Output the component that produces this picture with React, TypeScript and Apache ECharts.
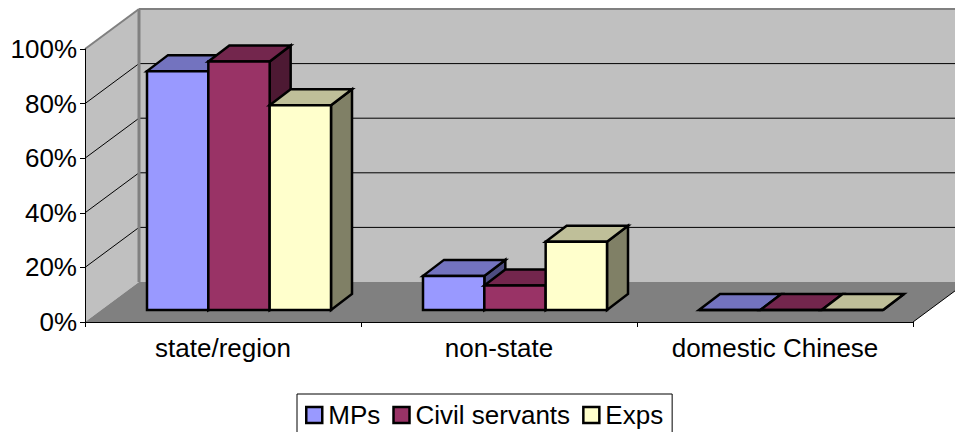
import React, { useEffect, useRef } from "react";
import * as echarts from "echarts";

const categories = ["state/region", "non-state", "domestic Chinese"];
const yTicks = [0, 20, 40, 60, 80, 100];
const mps = [87.5, 12.5, 0];
const civilServants = [91, 9, 0];
const exps = [75, 25, 0];

const seriesInfo = [
  { name: "MPs", values: mps, front: "#9999FF", top: "#7373BF", side: "#4D4D80" },
  { name: "Civil servants", values: civilServants, front: "#993366", top: "#73264D", side: "#4D1933" },
  { name: "Exps", values: exps, front: "#FFFFCC", top: "#BFBF99", side: "#808066" },
];

const WALL = "#C0C0C0";
const FLOOR = "#808080";
const DEPTH_X = 54;
const DEPTH_Y = -40;
const BAR_DX = 21;
const BAR_DY = -16;
const BAR_OFF_X = 16;
const BAR_OFF_Y = -12;
const FONT = "Liberation Sans";
const FONT_SIZE = 26;

function poly(points: number[][], fill: string, stroke?: string, lineWidth = 2.5) {
  return {
    type: "polygon",
    shape: { points },
    style: { fill, stroke: stroke || "none", lineWidth, lineJoin: "miter" },
  };
}

function line(a: number[], b: number[], stroke: string, lineWidth: number) {
  return {
    type: "line",
    shape: { x1: a[0], y1: a[1], x2: b[0], y2: b[1] },
    style: { stroke, lineWidth },
  };
}

function renderWalls(_p: any, api: any) {
  const bl = api.coord([0, 0]);
  const band = api.size([1, 0])[0];
  const left = bl[0] - band / 2;
  const right = left + band * categories.length;
  const base = bl[1];
  const topY = api.coord([0, 100])[1];
  const children: any[] = [];
  children.push(
    poly([[left, topY], [left + DEPTH_X, topY + DEPTH_Y], [left + DEPTH_X, base + DEPTH_Y], [left, base]], WALL),
    poly([[left + DEPTH_X, topY + DEPTH_Y], [right + DEPTH_X, topY + DEPTH_Y], [right + DEPTH_X, base + DEPTH_Y], [left + DEPTH_X, base + DEPTH_Y]], WALL),
    poly([[left, base], [left + DEPTH_X, base + DEPTH_Y], [right + DEPTH_X, base + DEPTH_Y], [right, base]], FLOOR)
  );
  yTicks.slice(1, -1).forEach((t) => {
    const y = api.coord([0, t])[1];
    children.push(
      line([left, y], [left + DEPTH_X, y + DEPTH_Y], "#000", 1),
      line([left + DEPTH_X, y + DEPTH_Y], [right + DEPTH_X, y + DEPTH_Y], "#000", 1)
    );
  });
  children.push(
    line([left + DEPTH_X, topY + DEPTH_Y], [left + DEPTH_X, base + DEPTH_Y], FLOOR, 3),
    line([left + DEPTH_X, topY + DEPTH_Y], [right + DEPTH_X, topY + DEPTH_Y], FLOOR, 2),
    line([left, topY], [left + DEPTH_X, topY + DEPTH_Y], FLOOR, 2),
    line([right, base], [right + DEPTH_X, base + DEPTH_Y], "#000", 1)
  );
  return { type: "group", children };
}

function renderBar(params: any, api: any) {
  const idx = params.seriesIndex - 1;
  const info = seriesInfo[idx];
  const cat = api.value(0);
  const top = api.coord([cat, api.value(1)]);
  const base = api.coord([cat, 0]);
  const w = (api.size([1, 0])[0] * 2) / 9;
  const x0 = top[0] + BAR_OFF_X - 1.5 * w + idx * w;
  const x1 = x0 + w;
  const yT = top[1] + BAR_OFF_Y;
  const yB = base[1] + BAR_OFF_Y;
  return {
    type: "group",
    children: [
      poly([[x1, yT], [x1 + BAR_DX, yT + BAR_DY], [x1 + BAR_DX, yB + BAR_DY], [x1, yB]], info.side, "#000"),
      poly([[x0, yT], [x0 + BAR_DX, yT + BAR_DY], [x1 + BAR_DX, yT + BAR_DY], [x1, yT]], info.top, "#000"),
      poly([[x0, yT], [x1, yT], [x1, yB], [x0, yB]], info.front, "#000"),
    ],
  };
}

export default function App() {
  const ref = useRef<HTMLDivElement>(null);
  useEffect(() => {
    document.body.style.margin = "0";
    const chart = echarts.init(ref.current!, null, { renderer: "svg" });
    chart.setOption({
      animation: false,
      backgroundColor: "#fff",
      grid: { left: 85, top: 49, width: 828, height: 273, containLabel: false },
      xAxis: {
        type: "category",
        data: categories,
        z: 5,
        axisLine: { lineStyle: { color: "#000", width: 1 } },
        axisTick: { show: true, length: 5, lineStyle: { color: "#000" } },
        axisLabel: { color: "#000", fontFamily: FONT, fontSize: FONT_SIZE, margin: 13, interval: 0 },
        splitLine: { show: false },
      },
      yAxis: {
        type: "value",
        min: 0,
        max: 100,
        interval: 20,
        z: 5,
        axisLine: { show: true, lineStyle: { color: "#000", width: 1 } },
        axisTick: { show: true, length: 5, lineStyle: { color: "#000" } },
        axisLabel: { color: "#000", fontFamily: FONT, fontSize: FONT_SIZE, margin: 8, formatter: "{value}%" },
        splitLine: { show: false },
      },
      legend: {
        left: 297,
        top: 394,
        orient: "horizontal",
        data: seriesInfo.map((s) => s.name),
        backgroundColor: "#fff",
        borderColor: "#000",
        borderWidth: 1,
        borderRadius: 0,
        padding: [8, 9, 6, 8],
        itemWidth: 16,
        itemHeight: 16,
        itemGap: 12,
        icon: "rect",
        itemStyle: { borderColor: "#000", borderWidth: 2.5 },
        textStyle: { color: "#000", fontFamily: FONT, fontSize: FONT_SIZE, padding: [0, 0, 0, 1] },
      },
      series: [
        {
          type: "custom",
          name: "walls",
          silent: true,
          renderItem: renderWalls,
          data: [[0, 0]],
          encode: { x: 0, y: 1 },
        },
        ...seriesInfo.map((s) => ({
          type: "custom",
          name: s.name,
          renderItem: renderBar,
          itemStyle: { color: s.front, borderColor: "#000", borderWidth: 2.5 },
          data: s.values.map((v, i) => [i, v]),
          encode: { x: 0, y: 1 },
        })),
      ],
    });
    return () => chart.dispose();
  }, []);
  return <div ref={ref} style={{ width: 955, height: 432 }} />;
}
